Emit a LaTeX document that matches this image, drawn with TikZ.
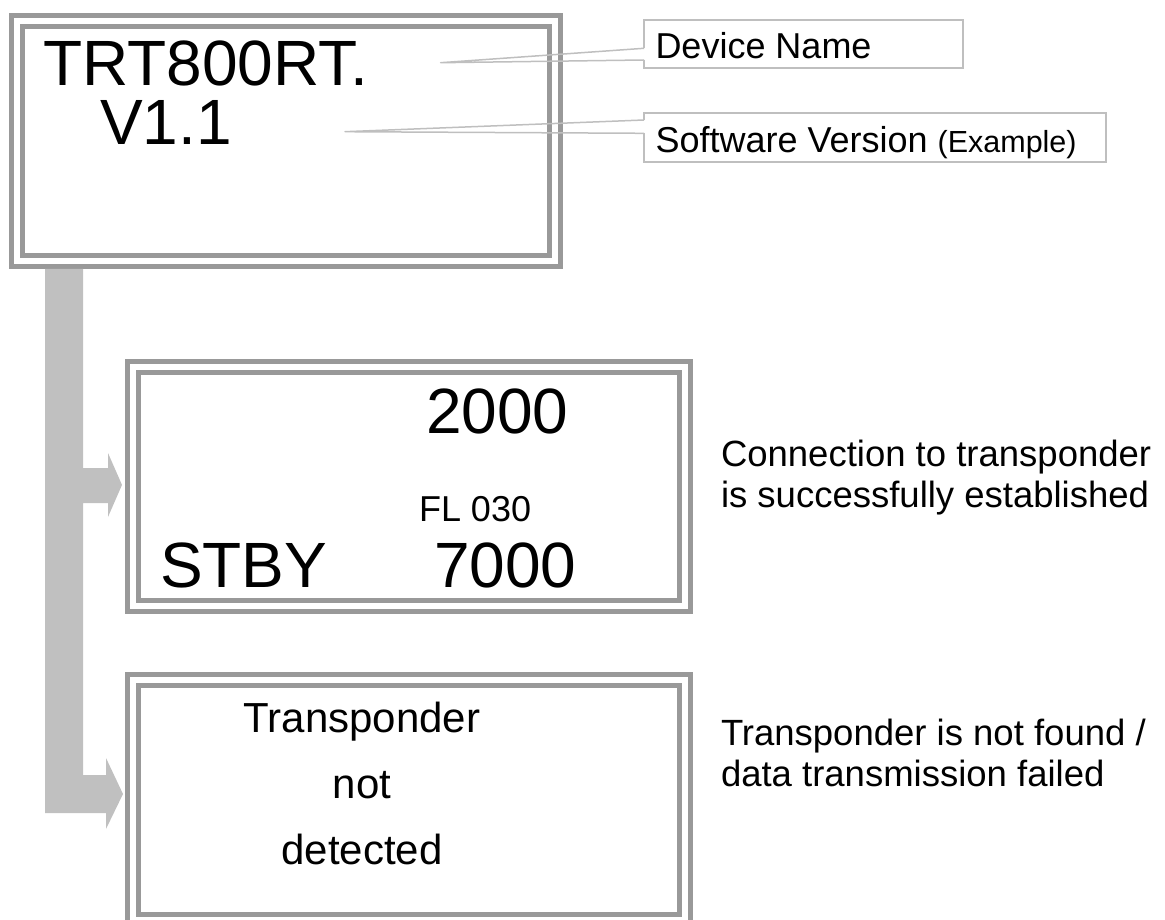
\documentclass[tikz,border=0pt]{standalone}
\usepackage{fontspec}
\setmainfont{Liberation Sans}
\usetikzlibrary{calc}
\definecolor{framegray}{HTML}{999999}
\definecolor{bargray}{HTML}{C0C0C0}
\definecolor{callgray}{HTML}{BFBFBF}
\begin{document}
\begin{tikzpicture}[x=1pt,y=-1pt,
  dblbox/.style={rectangle, draw=framegray, line width=4.8pt, double=white, double distance=6pt,
    inner sep=0pt, outer sep=0pt, anchor=north west},
  txt/.style={inner sep=0pt, outer sep=0pt, anchor=base west, text=black},
  ctxt/.style={inner sep=0pt, outer sep=0pt, anchor=base, text=black},
  callbox/.style={rectangle, draw=callgray, line width=1.5pt, fill=white,
    inner sep=0pt, outer sep=0pt, anchor=north west},
  callline/.style={draw=callgray, line width=1.5pt, line join=round},
  big/.style={font=\fontsize{64}{70}\selectfont},
  mid/.style={font=\fontsize{42}{48}\selectfont},
  norm/.style={font=\fontsize{36}{40}\selectfont},
  note/.style={font=\fontsize{36.5}{40}\selectfont},
  small/.style={font=\fontsize{36}{40}\selectfont},
]
\useasboundingbox (0,0) rectangle (1165,920);

% display frames
\node[dblbox, minimum width=538pt, minimum height=240pt] (topbox) at (17.25,21.1) {};
\node[dblbox, minimum width=552pt, minimum height=239pt] (midbox) at (133,366.8) {};
\node[dblbox, minimum width=552pt, minimum height=240pt] (botbox) at (133,680.2) {};

% flow bar with two arrows
\coordinate (bartop) at ($(topbox.south west)+(27.75,7.7)$);
\coordinate (tip1) at ($(midbox.west)+(-11,-1.4)$);
\coordinate (tip2) at ($(botbox.west)+(-10,-6.2)$);
\fill[bargray] (bartop) -- ++(38,0) -- (83,468) -- (108,468) -- (108,453) -- (tip1)
  -- (108,517) -- (108,503) -- (83,503) -- (83,775) -- (106,775) -- (106,758) -- (tip2)
  -- (106,829) -- (106,813) -- (45,813) -- cycle;

% top display text
\node[txt, big] (devname) at (43.5,86) {TRT800RT.};
\node[txt, big] (version) at (100,145) {V1.1};

% middle display text
\node[txt, big] (alt) at (426,433) {2000};
\node[txt, small] (fl) at (419,521) {FL 030};
\node[txt, big] (stby) at (160,587) {STBY};
\node[txt, big] (squawk) at (434,587) {7000};

% bottom display text
\node[ctxt, mid] (nd1) at (362,732) {Transponder};
\node[ctxt, mid] (nd2) at (362,798) {not};
\node[ctxt, mid] (nd3) at (362,864) {detected};

% callouts
\node[callbox, minimum width=319pt, minimum height=48pt] (devbox) at (644,20) {};
\node[callbox, minimum width=462pt, minimum height=49pt] (swbox) at (644,113) {};
\coordinate (devtip) at (440.7,62.7);
\coordinate (swtip) at (345,131.7);
\coordinate (dv1) at ($(devbox.north west)+(0,28.3)$);
\coordinate (dv2) at ($(devbox.north west)+(0,40)$);
\coordinate (sw1) at ($(swbox.north west)+(0,7)$);
\coordinate (sw2) at ($(swbox.north west)+(0,20.3)$);
\fill[white] ($(dv1)+(-1.2,0)$) rectangle ($(dv2)+(1.2,0)$);
\fill[white] ($(sw1)+(-1.2,0)$) rectangle ($(sw2)+(1.2,0)$);
\draw[callline] (dv1) -- (devtip) -- (dv2);
\draw[callline] (sw1) -- (swtip) -- (sw2);
\node[txt, norm] (devlabel) at (655.5,58.3) {Device Name};
\node[txt, norm] (swlabel) at (655.5,152.5) {Software Version \fontsize{30.5}{34}\selectfont(Example)};

% right-hand notes
\node[txt, note] (ok1) at (721,466) {Connection to transponder};
\node[txt, note] (ok2) at (721,507) {is successfully established};
\node[txt, note] (fail1) at (721,745) {Transponder is not found /};
\node[txt, note] (fail2) at (721,786) {data transmission failed};
\end{tikzpicture}
\end{document}
